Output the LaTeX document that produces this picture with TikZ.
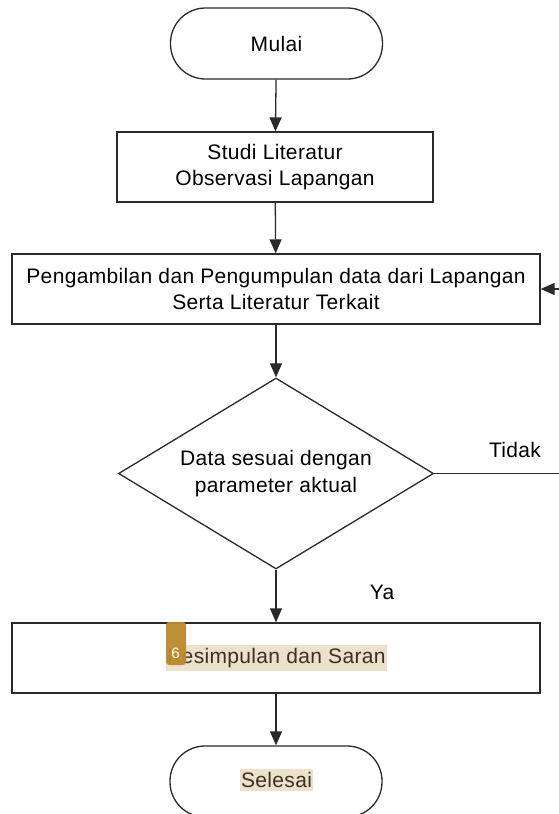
\documentclass[tikz,border=0pt]{standalone}
\usepackage{fontspec}
\setmainfont[LetterSpace=1.6]{Liberation Sans}
\usetikzlibrary{shapes.geometric,arrows.meta}
\definecolor{edge}{HTML}{2A2A2A}
\definecolor{hlfill}{HTML}{EDE1CB}
\definecolor{hltext}{HTML}{3A3124}
\definecolor{marker}{HTML}{BC8A2E}
\tikzset{
  base/.style={draw=edge, line width=1.3pt, fill=white, align=center, text=black,
    font=\fontsize{21}{26.5}\selectfont, inner sep=0pt},
  term/.style={base, rectangle, rounded corners=35pt, minimum width=212pt, minimum height=71pt},
  procbox/.style={base, rectangle, minimum height=70pt},
  decision/.style={base, diamond, aspect=1.65, minimum width=315pt, minimum height=191pt},
  conn/.style={draw=edge, line width=1.3pt},
  arr/.style={conn, -{Triangle[width=12pt,length=14pt]}},
  lbl/.style={font=\fontsize{21}{26.5}\selectfont, text=black, inner sep=0pt},
  hl/.style={fill=hlfill, text=hltext, font=\fontsize{21}{26.5}\selectfont, inner xsep=1.5pt, inner ysep=3pt},
}
\begin{document}
\begin{tikzpicture}[x=1pt,y=-1pt]
\useasboundingbox (0,0) rectangle (559,814);
\node[term] (mulai) at (276.5,43.5) {Mulai};
\node[procbox, minimum width=316pt] (studi) at (275,167) {Studi Literatur\\Observasi Lapangan};
\node[procbox, minimum width=528pt] (ambil) at (276,289) {Pengambilan dan Pengumpulan data dari Lapangan\\Serta Literatur Terkait};
\node[decision] (dec) at (276,473.5) {Data sesuai dengan\\parameter aktual};
\node[procbox, minimum width=528pt] (kes) at (276,658) {};
\node[term] (selesai) at (276,781.5) {};
\node[hl] (kestxt) at (276.5,658) {Kesimpulan dan Saran};
\node[hl] (seltxt) at (276.5,780) {Selesai};
\node[fill=marker, rounded corners=3pt, minimum width=20pt, minimum height=43pt, inner sep=0pt, opacity=0.95] (mark) at (176,643.5) {};
\node[text=white, font=\fontsize{15}{17}\selectfont, inner sep=0pt] (marknum) at (175.5,653) {6};
\node[lbl] (tidak) at (515,450) {Tidak};
\node[lbl] (ya) at (382,592) {Ya};
\coordinate (loopin) at (559,289);
\coordinate (noout) at (559,473.5);
\draw[arr] (mulai) -- (studi);
\draw[arr] (studi) -- (ambil);
\draw[arr] (ambil) -- (dec);
\draw[arr] (dec) -- (kes);
\draw[arr] (kes) -- (selesai);
\draw[conn] (dec.east) -- (noout);
\draw[arr] (loopin) -- (ambil.east);
\end{tikzpicture}
\end{document}
